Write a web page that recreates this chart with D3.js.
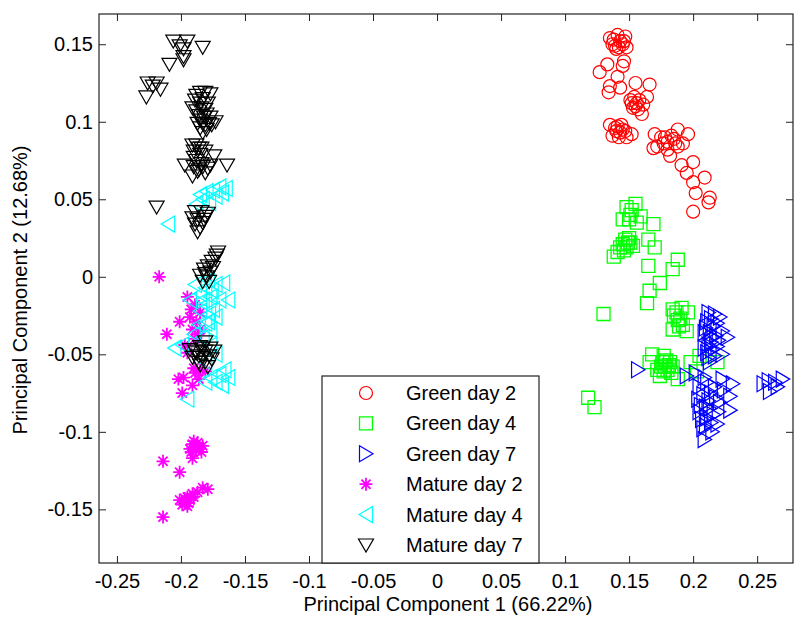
<!DOCTYPE html>
<html>
<head>
<meta charset="utf-8">
<script src="https://cdn.jsdelivr.net/npm/d3@7"></script>
<style>
  body { margin: 0; background: #fff; }
  text { font-family: "Liberation Sans", Arial, sans-serif; }
</style>
</head>
<body>
<svg id="plot"></svg>
<script>
// PCA scores, [PC1, PC2]
var greenDay2 = [
  [0.135,0.154],[0.141,0.156],[0.147,0.155],[0.137,0.150],[0.145,0.150],[0.140,0.147],[0.148,0.148],
  [0.138,0.153],[0.143,0.152],[0.139,0.149],[0.146,0.152],[0.142,0.148],
  [0.127,0.132],[0.133,0.137],[0.146,0.139],[0.145,0.136],[0.141,0.129],[0.135,0.123],[0.134,0.119],
  [0.143,0.122],[0.155,0.125],[0.166,0.124],[0.151,0.114],[0.156,0.112],[0.164,0.116],[0.160,0.105],
  [0.153,0.109],[0.155,0.110],[0.158,0.114],[0.154,0.116],[0.157,0.108],[0.161,0.111],[0.152,0.112],
  [0.135,0.098],[0.141,0.097],[0.145,0.095],[0.152,0.092],[0.137,0.091],[0.143,0.093],[0.140,0.094],
  [0.148,0.090],[0.139,0.096],[0.144,0.098],[0.147,0.094],[0.142,0.090],
  [0.170,0.092],[0.172,0.084],[0.180,0.087],[0.188,0.095],[0.196,0.092],[0.175,0.090],[0.185,0.089],
  [0.180,0.082],[0.192,0.086],[0.188,0.084],[0.177,0.086],[0.183,0.091],[0.186,0.086],[0.178,0.090],
  [0.169,0.083],[0.182,0.078],[0.191,0.072],[0.200,0.074],[0.195,0.067],[0.200,0.061],[0.209,0.064],
  [0.202,0.054],[0.213,0.051],[0.212,0.048],[0.200,0.042]
];
var greenDay4 = [
  [0.148,0.045],[0.155,0.047],[0.151,0.040],[0.145,0.037],[0.159,0.039],[0.169,0.034],[0.156,0.035],
  [0.152,0.043],[0.150,0.037],
  [0.147,0.024],[0.149,0.022],[0.143,0.019],[0.138,0.013],[0.141,0.016],[0.153,0.020],[0.150,0.025],
  [0.146,0.017],[0.148,0.019],[0.151,0.022],[0.145,0.021],
  [0.165,0.024],[0.170,0.019],[0.165,0.007],[0.188,0.011],[0.184,0.005],[0.174,-0.004],
  [0.166,-0.009],[0.164,-0.017],[0.130,-0.024],[0.184,-0.021],[0.191,-0.020],[0.188,-0.028],[0.196,-0.023],
  [0.184,-0.034],[0.192,-0.031],[0.185,-0.025],[0.190,-0.027],[0.195,-0.035],[0.187,-0.023],[0.189,-0.032],
  [0.168,-0.050],[0.177,-0.051],[0.182,-0.055],[0.180,-0.060],[0.174,-0.064],[0.188,-0.066],[0.198,-0.055],
  [0.205,-0.051],[0.219,-0.055],[0.203,-0.061],[0.166,-0.055],[0.178,-0.058],[0.183,-0.062],[0.176,-0.055],
  [0.172,-0.060],[0.179,-0.054],[0.181,-0.057],[0.177,-0.061],[0.184,-0.058],[0.175,-0.058],
  [0.118,-0.078],[0.123,-0.084]
];
var greenDay7 = [
  [0.212,-0.023],[0.217,-0.024],[0.221,-0.026],[0.211,-0.029],[0.216,-0.032],[0.223,-0.035],[0.209,-0.036],
  [0.215,-0.039],[0.227,-0.039],[0.212,-0.044],[0.219,-0.045],[0.211,-0.049],[0.217,-0.051],[0.223,-0.050],
  [0.213,-0.055],[0.214,-0.027],[0.219,-0.030],[0.210,-0.033],[0.213,-0.036],[0.218,-0.038],[0.214,-0.042],
  [0.209,-0.046],[0.215,-0.047],[0.212,-0.052],[0.220,-0.041],
  [0.195,-0.064],[0.202,-0.062],[0.209,-0.065],[0.223,-0.066],[0.231,-0.069],[0.205,-0.071],
  [0.217,-0.071],[0.229,-0.077],[0.204,-0.079],[0.212,-0.080],[0.221,-0.081],[0.229,-0.086],[0.205,-0.087],
  [0.216,-0.089],[0.207,-0.092],[0.219,-0.095],[0.208,-0.098],[0.215,-0.100],[0.209,-0.105],
  [0.211,-0.068],[0.214,-0.075],[0.208,-0.076],[0.218,-0.078],[0.210,-0.084],[0.213,-0.085],[0.220,-0.087],
  [0.206,-0.083],[0.211,-0.091],[0.214,-0.094],[0.210,-0.096],[0.224,-0.073],
  [0.255,-0.069],[0.259,-0.067],[0.264,-0.068],[0.270,-0.066],[0.266,-0.071],[0.260,-0.074],
  [0.157,-0.060]
];
var matureDay2 = [
  [-0.217,0.000],[-0.195,-0.013],[-0.189,-0.018],[-0.185,-0.023],[-0.193,-0.026],[-0.201,-0.029],
  [-0.188,-0.029],[-0.191,-0.034],[-0.185,-0.034],[-0.211,-0.037],[-0.189,-0.040],[-0.197,-0.044],
  [-0.195,-0.049],[-0.185,-0.060],[-0.189,-0.062],[-0.198,-0.065],[-0.202,-0.066],[-0.181,-0.061],
  [-0.191,-0.070],[-0.199,-0.075],[-0.186,-0.066],[-0.192,-0.021],[-0.187,-0.037],[-0.190,-0.059],
  [-0.191,-0.108],[-0.189,-0.110],[-0.193,-0.111],[-0.183,-0.109],[-0.191,-0.117],[-0.184,-0.113],
  [-0.187,-0.107],[-0.190,-0.106],[-0.188,-0.112],[-0.192,-0.113],[-0.186,-0.110],
  [-0.214,-0.119],[-0.201,-0.126],[-0.214,-0.155],
  [-0.201,-0.144],[-0.195,-0.142],[-0.193,-0.144],[-0.197,-0.146],[-0.191,-0.140],[-0.187,-0.139],
  [-0.183,-0.136],[-0.179,-0.137],[-0.195,-0.148],[-0.197,-0.143],[-0.194,-0.146],[-0.190,-0.142],
  [-0.199,-0.147]
];
var matureDay4 = [
  [-0.185,0.053],[-0.180,0.055],[-0.175,0.056],[-0.170,0.058],[-0.165,0.057],[-0.183,0.050],
  [-0.173,0.052],[-0.168,0.054],[-0.188,0.047],[-0.178,0.048],[-0.210,0.034],
  [-0.189,-0.005],[-0.181,-0.007],[-0.173,-0.005],[-0.167,-0.004],[-0.163,-0.015],[-0.185,-0.011],
  [-0.177,-0.013],[-0.170,-0.015],[-0.193,-0.015],[-0.181,-0.018],[-0.175,-0.021],[-0.185,-0.022],
  [-0.173,-0.026],[-0.179,-0.029],[-0.186,-0.031],[-0.177,-0.034],[-0.190,-0.037],[-0.183,-0.039],
  [-0.199,-0.044],[-0.205,-0.046],[-0.177,-0.044],[-0.173,-0.050],[-0.181,-0.055],
  [-0.179,-0.002],[-0.176,-0.009],[-0.183,-0.015],[-0.178,-0.024],[-0.181,-0.030],
  [-0.166,-0.060],[-0.170,-0.063],[-0.177,-0.065],[-0.163,-0.065],[-0.173,-0.068],[-0.181,-0.068],
  [-0.168,-0.070],[-0.195,-0.079]
];
var matureDay7 = [
  [-0.206,0.152],[-0.195,0.152],[-0.201,0.149],[-0.198,0.147],[-0.198,0.142],[-0.198,0.140],
  [-0.183,0.148],[-0.209,0.137],[-0.226,0.125],[-0.219,0.125],[-0.216,0.121],[-0.227,0.116],[-0.222,0.123],
  [-0.185,0.119],[-0.181,0.119],[-0.177,0.118],[-0.189,0.114],[-0.185,0.112],[-0.191,0.109],[-0.188,0.107],
  [-0.181,0.108],[-0.177,0.103],[-0.185,0.101],[-0.181,0.098],[-0.176,0.098],[-0.180,0.095],[-0.185,0.096],
  [-0.173,0.100],[-0.188,0.117],[-0.183,0.115],[-0.179,0.112],[-0.186,0.104],[-0.182,0.103],[-0.178,0.099],
  [-0.183,0.093],[-0.187,0.099],[-0.184,0.109],[-0.180,0.105],[-0.183,0.099],
  [-0.191,0.085],[-0.188,0.085],[-0.184,0.083],[-0.190,0.081],[-0.185,0.079],[-0.190,0.077],[-0.197,0.072],
  [-0.190,0.071],[-0.183,0.071],[-0.177,0.072],[-0.187,0.068],[-0.191,0.065],[-0.181,0.067],[-0.174,0.078],
  [-0.164,0.072],[-0.186,0.083],[-0.181,0.081],[-0.188,0.075],[-0.184,0.073],[-0.179,0.070],[-0.186,0.069],
  [-0.219,0.045],
  [-0.189,0.042],[-0.184,0.042],[-0.179,0.041],[-0.191,0.038],[-0.187,0.037],[-0.182,0.037],[-0.189,0.034],
  [-0.185,0.032],[-0.187,0.029],[-0.183,0.035],[-0.181,0.039],
  [-0.171,0.016],[-0.173,0.012],[-0.176,0.010],[-0.179,0.007],[-0.182,0.005],[-0.177,0.003],[-0.185,0.001],
  [-0.180,0.000],[-0.183,-0.003],[-0.175,0.006],[-0.181,0.002],[-0.178,-0.003],[-0.172,0.014],
  [-0.181,-0.042],[-0.185,-0.045],[-0.177,-0.046],[-0.193,-0.047],[-0.189,-0.048],[-0.181,-0.048],
  [-0.174,-0.048],[-0.186,-0.051],[-0.183,-0.052],[-0.191,-0.052],[-0.178,-0.051],[-0.186,-0.055],
  [-0.185,-0.057],[-0.181,-0.055],[-0.188,-0.049],[-0.183,-0.046],[-0.176,-0.053],[-0.179,-0.058]
];

var seriesNames = ['Green day 2', 'Green day 4', 'Green day 7', 'Mature day 2', 'Mature day 4', 'Mature day 7'];
var seriesData = [greenDay2, greenDay4, greenDay7, matureDay2, matureDay4, matureDay7];
var xTicks = [-0.25, -0.2, -0.15, -0.1, -0.05, 0, 0.05, 0.1, 0.15, 0.2, 0.25];
var yTicks = [-0.15, -0.1, -0.05, 0, 0.05, 0.1, 0.15];

// MATLAB style colours and marker shapes
var colors = ['#ff0000', '#00ff00', '#0000ff', '#ff00ff', '#00ffff', '#000000'];
var strokes = [1.2, 1.3, 1.2, 1.8, 1.2, 1.2];
var markers = [
  'M6.5,0A6.5,6.5 0 1,1 -6.5,0A6.5,6.5 0 1,1 6.5,0Z',          // o
  'M-6.5,-6.5H6.5V6.5H-6.5Z',                                   // square
  'M-6.5,-8L7,0L-6.5,8Z',                                       // >
  'M-6.5,0H6.5M0,-6.5V6.5M-4.6,-4.6L4.6,4.6M-4.6,4.6L4.6,-4.6', // *
  'M6.5,-8L-7,0L6.5,8Z',                                        // <
  'M-7.5,-6L7.5,-6L0,7Z'                                        // v
];

var W = 794, H = 619;
var margin = {top: 14, right: 1, bottom: 56, left: 99},
    width = W - margin.left - margin.right,
    height = H - margin.top - margin.bottom;

var x = d3.scaleLinear().domain([-0.264, 0.278]).range([0, width]);
var y = d3.scaleLinear().domain([-0.1846, 0.1695]).range([height, 0]);

var root = d3.select('#plot').attr('width', W).attr('height', H);
var svg = root.append('g')
  .attr('transform', 'translate(' + margin.left + ',' + margin.top + ')');

// points, plotted in series order
seriesData.forEach(function(data, i) {
  svg.append('g')
    .selectAll('path')
    .data(data)
    .enter().append('path')
      .attr('transform', d => 'translate(' + x(d[0]) + ',' + y(d[1]) + ')')
      .attr('d', markers[i])
      .attr('fill', 'none')
      .attr('stroke', colors[i])
      .attr('stroke-width', strokes[i]);
});

// axes with inward ticks on all four sides
var fmt = d => String(+d.toFixed(2));
function styleAxis(g) {
  g.select('.domain').remove();
  g.selectAll('line').attr('stroke', '#222');
  g.selectAll('text').attr('fill', '#000').style('font-size', '20px')
    .style('font-family', '"Liberation Sans", Arial, sans-serif');
}
svg.append('g')
  .attr('transform', 'translate(0,' + height + ')')
  .call(d3.axisBottom(x).tickValues(xTicks).tickSize(-7).tickPadding(11).tickFormat(fmt))
  .call(styleAxis);
svg.append('g')
  .call(d3.axisTop(x).tickValues(xTicks).tickSize(-7).tickFormat(''))
  .call(styleAxis);
svg.append('g')
  .call(d3.axisLeft(y).tickValues(yTicks).tickSize(-7).tickPadding(6).tickFormat(fmt))
  .call(styleAxis);
svg.append('g')
  .attr('transform', 'translate(' + width + ',0)')
  .call(d3.axisRight(y).tickValues(yTicks).tickSize(-7).tickFormat(''))
  .call(styleAxis);

svg.append('rect')
  .attr('width', width).attr('height', height)
  .attr('fill', 'none').attr('stroke', '#222').attr('stroke-width', 1.2);

// axis labels
root.append('text')
  .attr('x', 448).attr('y', 611)
  .attr('text-anchor', 'middle')
  .style('font-size', '20px')
  .text('Principal Component 1 (66.22%)');
root.append('text')
  .attr('transform', 'translate(27,290) rotate(-90)')
  .attr('text-anchor', 'middle')
  .style('font-size', '20px')
  .text('Principal Component 2 (12.68%)');

// legend
var legend = root.append('g').attr('transform', 'translate(322,376)');
legend.append('rect')
  .attr('width', 217).attr('height', 187)
  .attr('fill', '#fff').attr('stroke', '#222').attr('stroke-width', 1.2);
var item = legend.selectAll('.legend')
  .data(seriesNames)
  .enter().append('g')
    .attr('class', 'legend')
    .attr('transform', (d, i) => 'translate(0,' + (17 + i * 30.4) + ')');
item.append('path')
  .attr('transform', 'translate(44,0)')
  .attr('d', (d, i) => markers[i])
  .attr('fill', 'none')
  .attr('stroke', (d, i) => colors[i])
  .attr('stroke-width', (d, i) => strokes[i]);
item.append('text')
  .attr('x', 84).attr('y', 7)
  .style('font-size', '20px')
  .text(d => d);
</script>
</body>
</html>
